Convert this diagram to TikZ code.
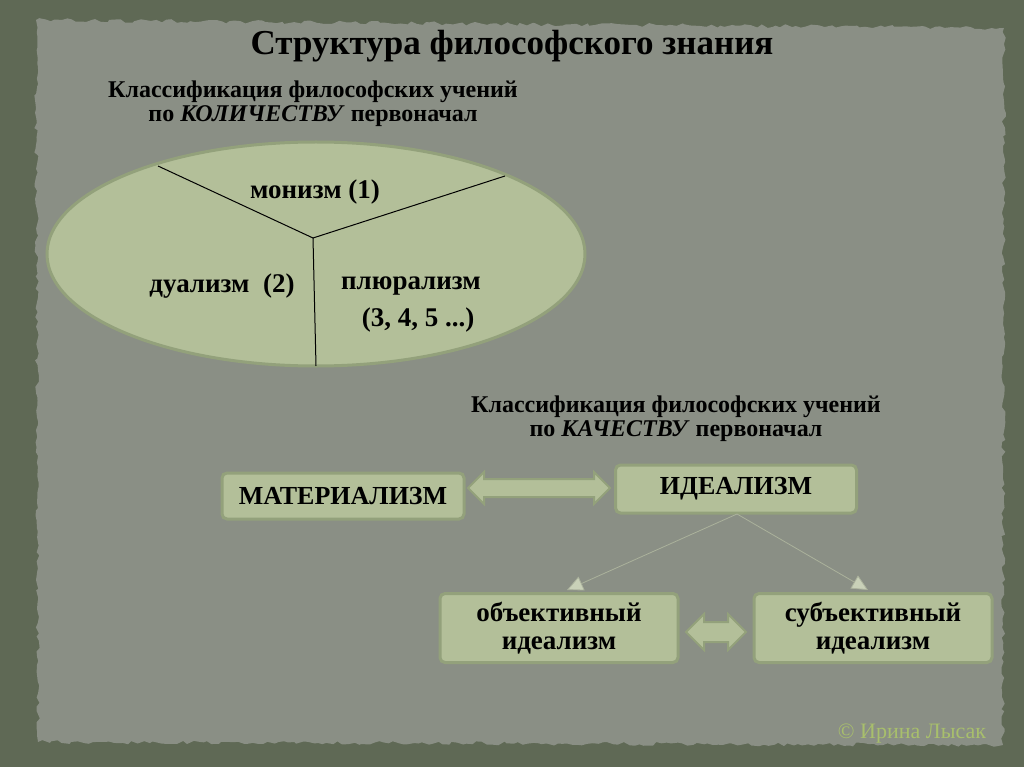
\documentclass[tikz,border=0pt]{standalone}
\usepackage{fontspec}
\setmainfont{Liberation Serif}
\usetikzlibrary{shapes.arrows,decorations.pathmorphing,arrows.meta}
\definecolor{frame}{HTML}{5F6955}
\definecolor{paper}{HTML}{8A8F85}
\definecolor{sage}{HTML}{B3BF99}
\definecolor{sageline}{HTML}{93A17B}
\definecolor{signcol}{HTML}{A8BF6C}
\definecolor{tipcol}{HTML}{C9D1B8}

\begin{document}
\begin{tikzpicture}[x=1pt, y=-1pt, line width=1pt,
	txt/.style={font=\bfseries\fontsize{24}{24}\selectfont, align=center, inner sep=1pt},
	part/.style={font=\bfseries\fontsize{27}{29}\selectfont, inner sep=1pt},
	box/.style={draw=sageline, line width=3pt, fill=sage, rounded corners=5pt, inner sep=0pt, align=center,
		font=\bfseries\fontsize{26}{25}\selectfont},
	dblarrow/.style={double arrow, draw=sageline, line width=2pt, fill=sage, inner xsep=0pt},
	thin/.style={draw=tipcol!85!black, line width=0.8pt, -{Triangle[length=16pt, width=15pt, fill=tipcol]}}]
	\useasboundingbox (0, 0) rectangle (1024, 767);
	\fill[frame] (0, 0) rectangle (1024, 767);
	\fill[paper, decorate, decoration={random steps, segment length=5pt, amplitude=2pt}] (36, 20) -- (1004, 28) -- (1003, 745) -- (38, 742) -- cycle;

	\node[font=\bfseries\fontsize{35}{37}\selectfont] (title) at (512, 46) {Структура философского знания};
	\node[txt] (qty) at (313, 104) {Классификация философских учений\\по \textit{КОЛИЧЕСТВУ} первоначал};

	\draw[sageline, line width=3pt, fill=sage] (316, 254) ellipse (269 and 112);
	\coordinate (mid) at (313, 238);
	\coordinate (e1) at (158, 166);
	\coordinate (e2) at (505, 176);
	\coordinate (e3) at (316, 366);
	\draw[black] (e1) -- (mid) -- (e2);
	\draw[black] (mid) -- (e3);
	\node[part] (mono) at (315, 192) {монизм (1)};
	\node[part] (dua) at (222, 286) {дуализм~~(2)};
	\node[part] (plu) at (411, 286) {плюрализм};
	\node[part] (plun) at (418, 320) {(3, 4, 5 ...)};

	\node[txt] (qual) at (676, 419) {Классификация философских учений\\по \textit{КАЧЕСТВУ} первоначал};

	\node[box, minimum width=242pt, minimum height=46pt] (mat) at (343, 496) {МАТЕРИАЛИЗМ};
	\node[box, minimum width=241pt, minimum height=48pt] (ideal) at (736, 489) {ИДЕАЛИЗМ};
	\node[box, font=\bfseries\fontsize{27}{28}\selectfont, minimum width=238pt, minimum height=69pt] (obj) at (559, 628) {объективный\\идеализм};
	\node[box, font=\bfseries\fontsize{27}{28}\selectfont, minimum width=238pt, minimum height=69pt] (subj) at (873, 628) {субъективный\\идеализм};

	\node[dblarrow, inner ysep=8pt, minimum height=142pt, minimum width=30pt, double arrow head extend=7pt] (link1) at (539, 488) {};
	\node[dblarrow, inner ysep=9pt, minimum height=60pt, minimum width=34pt, double arrow head extend=8pt] (link2) at (716, 632) {};

	\coordinate (fork) at (737, 514);
	\draw[thin] (fork) -- (567, 590);
	\draw[thin] (fork) -- (868, 590);

	\node[font=\fontsize{22}{24}\selectfont, text=signcol] (sign) at (912, 734) {© Ирина Лысак};
\end{tikzpicture}
\end{document}
